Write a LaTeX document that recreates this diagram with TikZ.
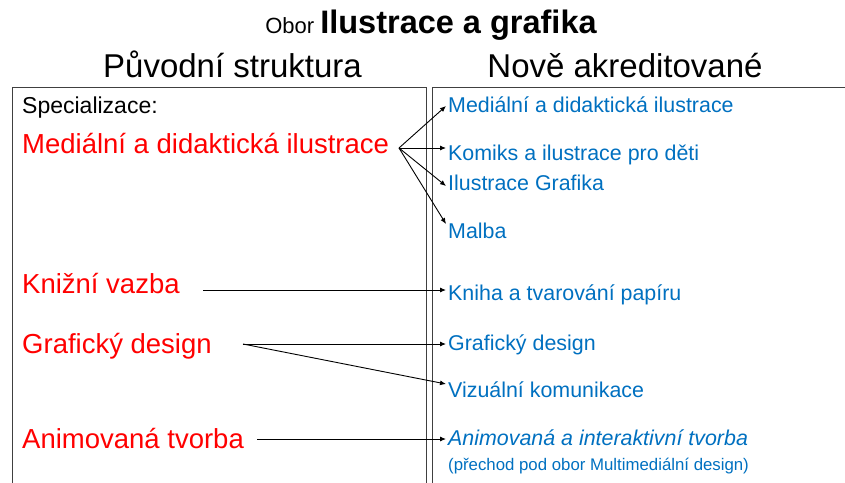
\documentclass[tikz,border=0pt]{standalone}
\usepackage{fontspec}
\setmainfont{Liberation Sans}
\usetikzlibrary{arrows.meta}
\definecolor{oldred}{RGB}{255,0,0}
\definecolor{newblue}{RGB}{0,112,192}
\definecolor{boxgray}{RGB}{64,64,64}
\tikzset{
  oldtxt/.style={anchor=base west, inner sep=0pt, text=oldred, font=\fontsize{27.5}{33}\selectfont},
  newtxt/.style={anchor=base west, inner sep=0pt, text=newblue, font=\fontsize{21.4}{26}\selectfont},
  head/.style={anchor=base, inner sep=0pt, font=\fontsize{33}{40}\selectfont},
  conn/.style={draw=black, line width=0.9pt, -{Latex[length=6pt,width=5pt]}},
  frame/.style={draw=boxgray, line width=1pt}
}
\begin{document}
\begin{tikzpicture}[x=1pt, y=-1pt]
\useasboundingbox (0,0) rectangle (845,482);
\begin{scope}
\clip (0,0) rectangle (845,482);
\draw[frame] (12.5,87) -- (426,87) -- (426,490);
\draw[frame] (12.5,87) -- (12.5,490);
\draw[frame] (432,490) -- (432,87) -- (850,87);
\end{scope}
% titles
\node[anchor=base, inner sep=0pt] (title) at (431,33)
  {\fontsize{22}{26}\selectfont Obor \fontsize{32.5}{38}\selectfont\bfseries Ilustrace a grafika};
\node[head] (hleft) at (232.5,77) {Původní struktura};
\node[head] (hright) at (625,77) {Nově akreditované};
% left column
\node[anchor=base west, inner sep=0pt, font=\fontsize{23}{27}\selectfont] (spec) at (22,113) {Specializace:};
\node[oldtxt] (o1) at (22,153) {Mediální a didaktická ilustrace};
\node[oldtxt] (o2) at (22,293) {Knižní vazba};
\node[oldtxt] (o3) at (22,353) {Grafický design};
\node[oldtxt] (o4) at (22,448) {Animovaná tvorba};
% right column
\node[newtxt] (n1) at (448,112) {Mediální a didaktická ilustrace};
\node[newtxt] (n2) at (448,160) {Komiks a ilustrace pro děti};
\node[newtxt] (n3) at (448,190) {Ilustrace Grafika};
\node[newtxt] (n4) at (448,238) {Malba};
\node[newtxt] (n5) at (448,300) {Kniha a tvarování papíru};
\node[newtxt] (n6) at (448,350) {Grafický design};
\node[newtxt] (n7) at (448,397) {Vizuální komunikace};
\node[newtxt, font=\fontsize{21.4}{26}\selectfont\itshape] (n8) at (448,445) {Animovaná a interaktivní tvorba};
\node[anchor=base west, inner sep=0pt, text=newblue, font=\fontsize{16.8}{20}\selectfont] (n9) at (448,470) {(přechod pod obor Multimediální design)};
% connector anchor points
\coordinate (s1) at (399,148);
\coordinate (t1) at (446,106);
\coordinate (t2) at (446,148);
\coordinate (t3) at (446,186);
\coordinate (t4) at (446,224);
\coordinate (s2) at (203,290);
\coordinate (t5) at (446,290);
\coordinate (s3) at (243,344);
\coordinate (t6) at (446,344);
\coordinate (t7) at (446,384);
\coordinate (s4) at (257,439);
\coordinate (t8) at (446,439);
\draw[conn] (s1) -- (t1);
\draw[conn] (s1) -- (t2);
\draw[conn] (s1) -- (t3);
\draw[conn] (s1) -- (t4);
\draw[conn] (s2) -- (t5);
\draw[conn] (s3) -- (t6);
\draw[conn] (s3) -- (t7);
\draw[conn] (s4) -- (t8);
\end{tikzpicture}
\end{document}
